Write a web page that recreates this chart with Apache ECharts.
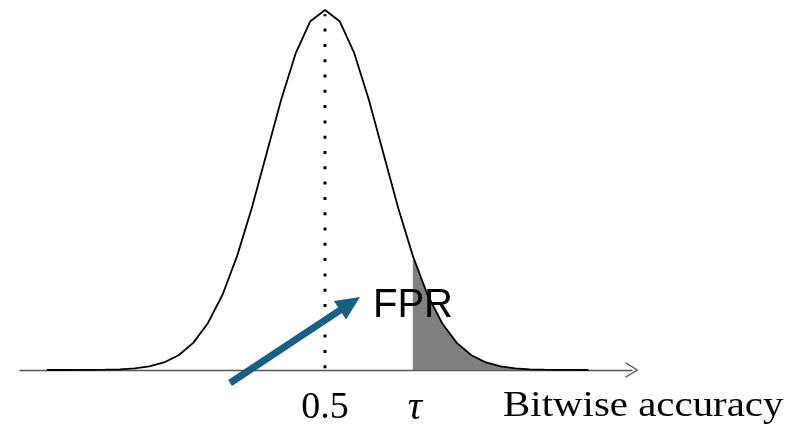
<!DOCTYPE html>
<html>
<head>
<meta charset="utf-8">
<script src="https://cdn.jsdelivr.net/npm/echarts@6/dist/echarts.min.js"></script>
<style>
  html, body { margin: 0; padding: 0; background: #fff; }
  #chart { width: 802px; height: 424px; }
</style>
</head>
<body>
<div id="chart"></div>
<script>
// x positions of the sampled curve (accuracy units)
const xValues = [0.044, 0.068, 0.092, 0.116, 0.140, 0.164, 0.188, 0.212, 0.236, 0.260,
                 0.284, 0.308, 0.332, 0.356, 0.380, 0.404, 0.428, 0.452, 0.476, 0.500,
                 0.524, 0.548, 0.572, 0.596, 0.620, 0.644, 0.668, 0.692, 0.716, 0.740,
                 0.764, 0.788, 0.812, 0.836, 0.860, 0.884, 0.908, 0.932];
// normalised density (peak = 1)
const density = [0.0000, 0.0000, 0.0001, 0.0003, 0.0008, 0.0019, 0.0046, 0.0101, 0.0210, 0.0411,
                 0.0753, 0.1300, 0.2090, 0.3170, 0.4500, 0.6000, 0.7500, 0.8800, 0.9690, 1.0000,
                 0.9690, 0.8800, 0.7500, 0.6000, 0.4500, 0.3170, 0.2090, 0.1300, 0.0753, 0.0411,
                 0.0210, 0.0101, 0.0046, 0.0019, 0.0008, 0.0003, 0.0001, 0.0000];
const meanValue = 0.5;
const tau = 0.644;
const tickValues = [0.5, 0.644];
const tickLabels = ['0.5', 'τ'];
const axisName = 'Bitwise accuracy';
const fprLabel = 'FPR';
// annotation arrow (data coordinates): tail -> head
const arrowFrom = [0.3443, -0.0361];
const arrowTo = [0.541, 0.1844];

const curveData = xValues.map((x, i) => [x, density[i]]);
const tailData = curveData.filter(p => p[0] >= tau - 1e-9);
const peak = Math.max(...density);

const chart = echarts.init(document.getElementById('chart'), null, { renderer: 'canvas' });
chart.setOption({
  animation: false,
  backgroundColor: '#fff',
  grid: { left: 20, right: 170, top: 10, bottom: 18, containLabel: false, outerBoundsMode: 'none' },
  xAxis: {
    type: 'value',
    min: 0,
    max: 1.00328,
    offset: -36,
    axisLine: {
      show: true,
      onZero: false,
      lineStyle: { color: '#555', width: 1.3 },
      symbol: ['none', 'path://M0,130 L80,0 L160,130 L146,130 L80,23 L14,130 Z'],
      symbolSize: [16, 13]
    },
    axisTick: { show: false },
    splitLine: { show: false },
    axisLabel: {
      show: true,
      customValues: tickValues,
      margin: 19,
      color: '#000',
      formatter: function (v) {
        const i = tickValues.findIndex(t => Math.abs(t - v) < 1e-6);
        return i === 1 ? '{t|' + tickLabels[i] + '}' : '{n|' + tickLabels[Math.max(i, 0)] + '}';
      },
      rich: {
        n: { fontFamily: 'Liberation Serif', fontSize: 38, color: '#000' },
        t: { fontFamily: 'Liberation Serif', fontSize: 40, lineHeight: 38, fontStyle: 'italic', color: '#000', padding: [0, 0, 0, 4] }
      }
    }
  },
  yAxis: {
    type: 'value',
    min: -0.1,
    max: 1,
    show: false
  },
  graphic: [
    {
      type: 'text', x: 503, y: 389, scaleX: 1.136, z: 100,
      style: { text: axisName, font: '36px "Liberation Serif"', fill: '#000', align: 'left', verticalAlign: 'top' }
    },
    {
      type: 'text', x: 373, y: 286, z: 100,
      style: { text: fprLabel, font: '40px "Liberation Sans"', fill: '#000', align: 'left', verticalAlign: 'top' }
    }
  ],
  series: [
    {
      type: 'line',
      data: tailData,
      symbol: 'none',
      lineStyle: { width: 0, opacity: 0 },
      areaStyle: { color: '#808080', opacity: 1 },
      z: 1
    },
    {
      type: 'line',
      data: [[meanValue, 0.005], [meanValue, peak - 0.012]],
      symbol: 'none',
      lineStyle: { color: '#000', width: 3, type: [3, 12.3], cap: 'butt' },
      z: 2
    },
    {
      type: 'line',
      data: curveData,
      symbol: 'none',
      smooth: false,
      lineStyle: { color: '#000', width: 1.8 },
      z: 3,
      markLine: {
        silent: true,
        symbol: ['none', 'triangle'],
        symbolSize: [22, 24],
        label: { show: false },
        lineStyle: { color: '#195f81', width: 7, type: 'solid', cap: 'butt' },
        itemStyle: { color: '#195f81' },
        data: [[{ coord: arrowFrom }, { coord: arrowTo }]],
        z: 10
      }
    }
  ]
});
</script>
</body>
</html>
